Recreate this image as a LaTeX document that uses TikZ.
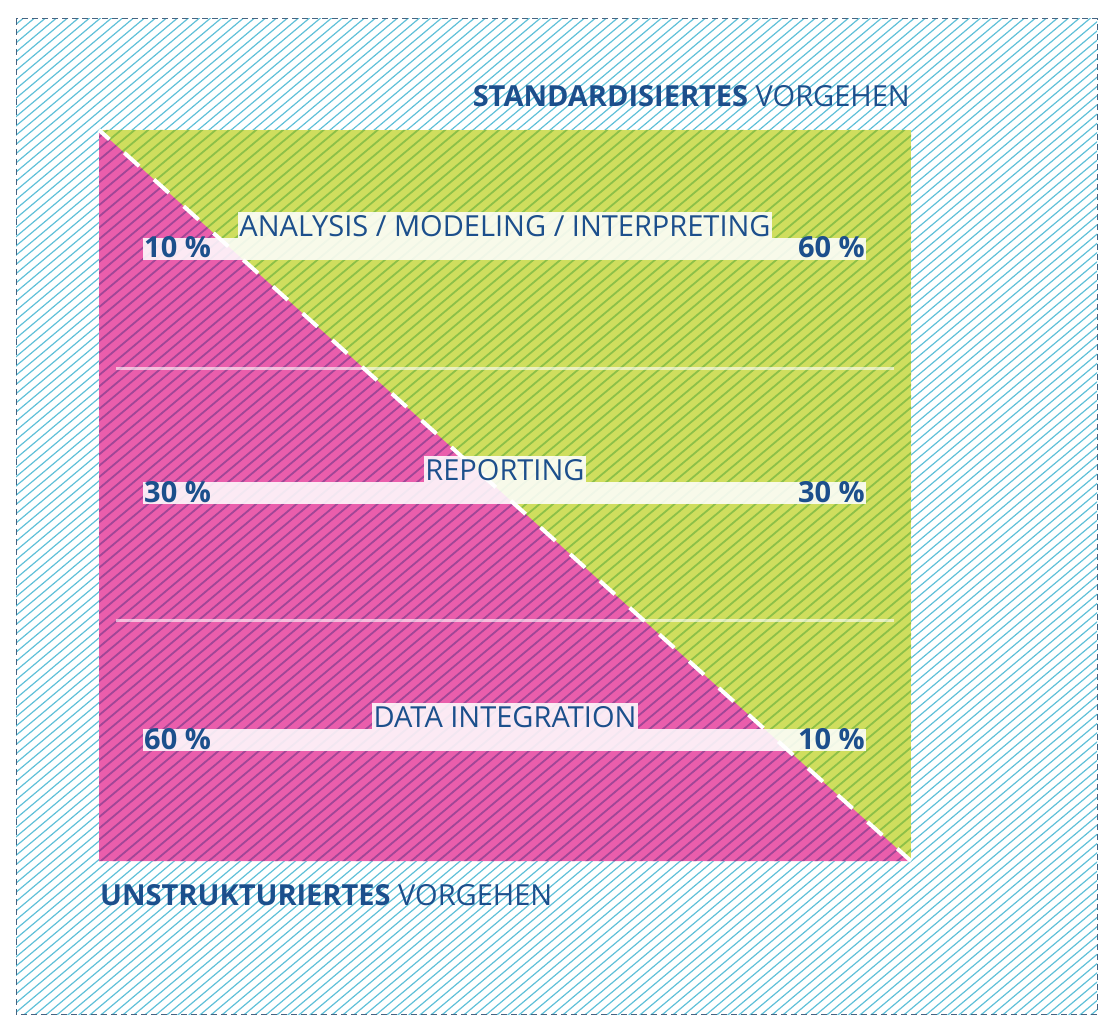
\documentclass[tikz,border=0pt]{standalone}
\usepackage{fontspec}
\setmainfont{Open Sans}
\definecolor{hatchcyan}{RGB}{95,192,216}
\definecolor{bordercol}{RGB}{70,100,130}
\definecolor{pinkfill}{RGB}{234,94,172}
\definecolor{pinkstripe}{RGB}{160,70,150}
\definecolor{greenfill}{RGB}{207,222,94}
\definecolor{greenstripe}{RGB}{140,192,72}
\definecolor{txtblue}{RGB}{28,79,140}
\tikzset{
  hatchline/.style={line width=1.2pt},
  stripeline/.style={line width=1.8pt},
  barbox/.style={fill=white, fill opacity=0.87, draw=none},
  labelbox/.style={fill=white, fill opacity=0.87, text opacity=1, text=txtblue, inner xsep=1.5pt, inner ysep=0.75pt, text height=23.5pt, text depth=1pt, font=\fontsize{29}{29}\selectfont, anchor=south},
  pct/.style={text=txtblue, inner sep=1pt, font=\fontsize{29}{29}\selectfont\bfseries},
  title/.style={text=txtblue, inner sep=0pt, font=\fontsize{29}{29}\selectfont},
}
\begin{document}
\begin{tikzpicture}[x=1pt,y=-1pt]
\useasboundingbox (0,0) rectangle (1114,1035);
% outer hatch
\begin{scope}
  \clip (16,19) rectangle (1097,1014);
  \foreach \i in {-115,...,105}
    \draw[hatchline, hatchcyan] ({\i*11},1035) -- ({\i*11+1233},0);
\end{scope}
\draw[bordercol, line width=1pt, dash pattern=on 6pt off 4pt] (16,19) rectangle (1097,1014);
% inner area
\fill[greenfill] (99,130) rectangle (911,861);
\fill[pinkfill] (99,130) -- (99,861) -- (911,861) -- cycle;
\begin{scope}
  \clip (99,130) -- (911,130) -- (911,861) -- cycle;
  \foreach \i in {0,...,160}
    \draw[stripeline, greenstripe] ({\i*13.5-1200},1035) -- ({\i*13.5+33},0);
\end{scope}
\begin{scope}
  \clip (99,130) -- (99,861) -- (911,861) -- cycle;
  \foreach \i in {0,...,160}
    \draw[stripeline, pinkstripe] ({\i*13.5-1200},1035) -- ({\i*13.5+33},0);
\end{scope}
% diagonal
\coordinate (dtl) at (99,130);
\coordinate (dbr) at (911,861);
\draw[white, line width=4pt, dash pattern=on 20pt off 20pt, dash phase=6pt] (dtl) -- (dbr);
% separators
\coordinate (s1l) at (116,368); \coordinate (s1r) at (894,368);
\coordinate (s2l) at (116,620); \coordinate (s2r) at (894,620);
\draw[white, opacity=0.6, line width=3pt] (s1l) -- (s1r);
\draw[white, opacity=0.6, line width=3pt] (s2l) -- (s2r);
% bars
\fill[barbox] (143,238) rectangle (866,260);
\fill[barbox] (143,482) rectangle (866,504);
\fill[barbox] (143,729) rectangle (866,751);
% labels
\node[labelbox] (l1) at (505,238) {ANALYSIS / MODELING / INTERPRETING};
\node[labelbox] (l2) at (505,482) {REPORTING};
\node[labelbox] (l3) at (505,729) {DATA INTEGRATION};
% percents
\node[pct, anchor=base west] (p1l) at (143,258) {10 \%};
\node[pct, anchor=base east] (p1r) at (866,258) {60 \%};
\node[pct, anchor=base west] (p2l) at (143,502) {30 \%};
\node[pct, anchor=base east] (p2r) at (866,502) {30 \%};
\node[pct, anchor=base west] (p3l) at (143,749) {60 \%};
\node[pct, anchor=base east] (p3r) at (866,749) {10 \%};
% titles
\node[title, anchor=base east] (std) at (910,107) {\textbf{STANDARDISIERTES} VORGEHEN};
\node[title, anchor=base west] (uns) at (100,905) {\textbf{UNSTRUKTURIERTES} VORGEHEN};
\end{tikzpicture}
\end{document}
